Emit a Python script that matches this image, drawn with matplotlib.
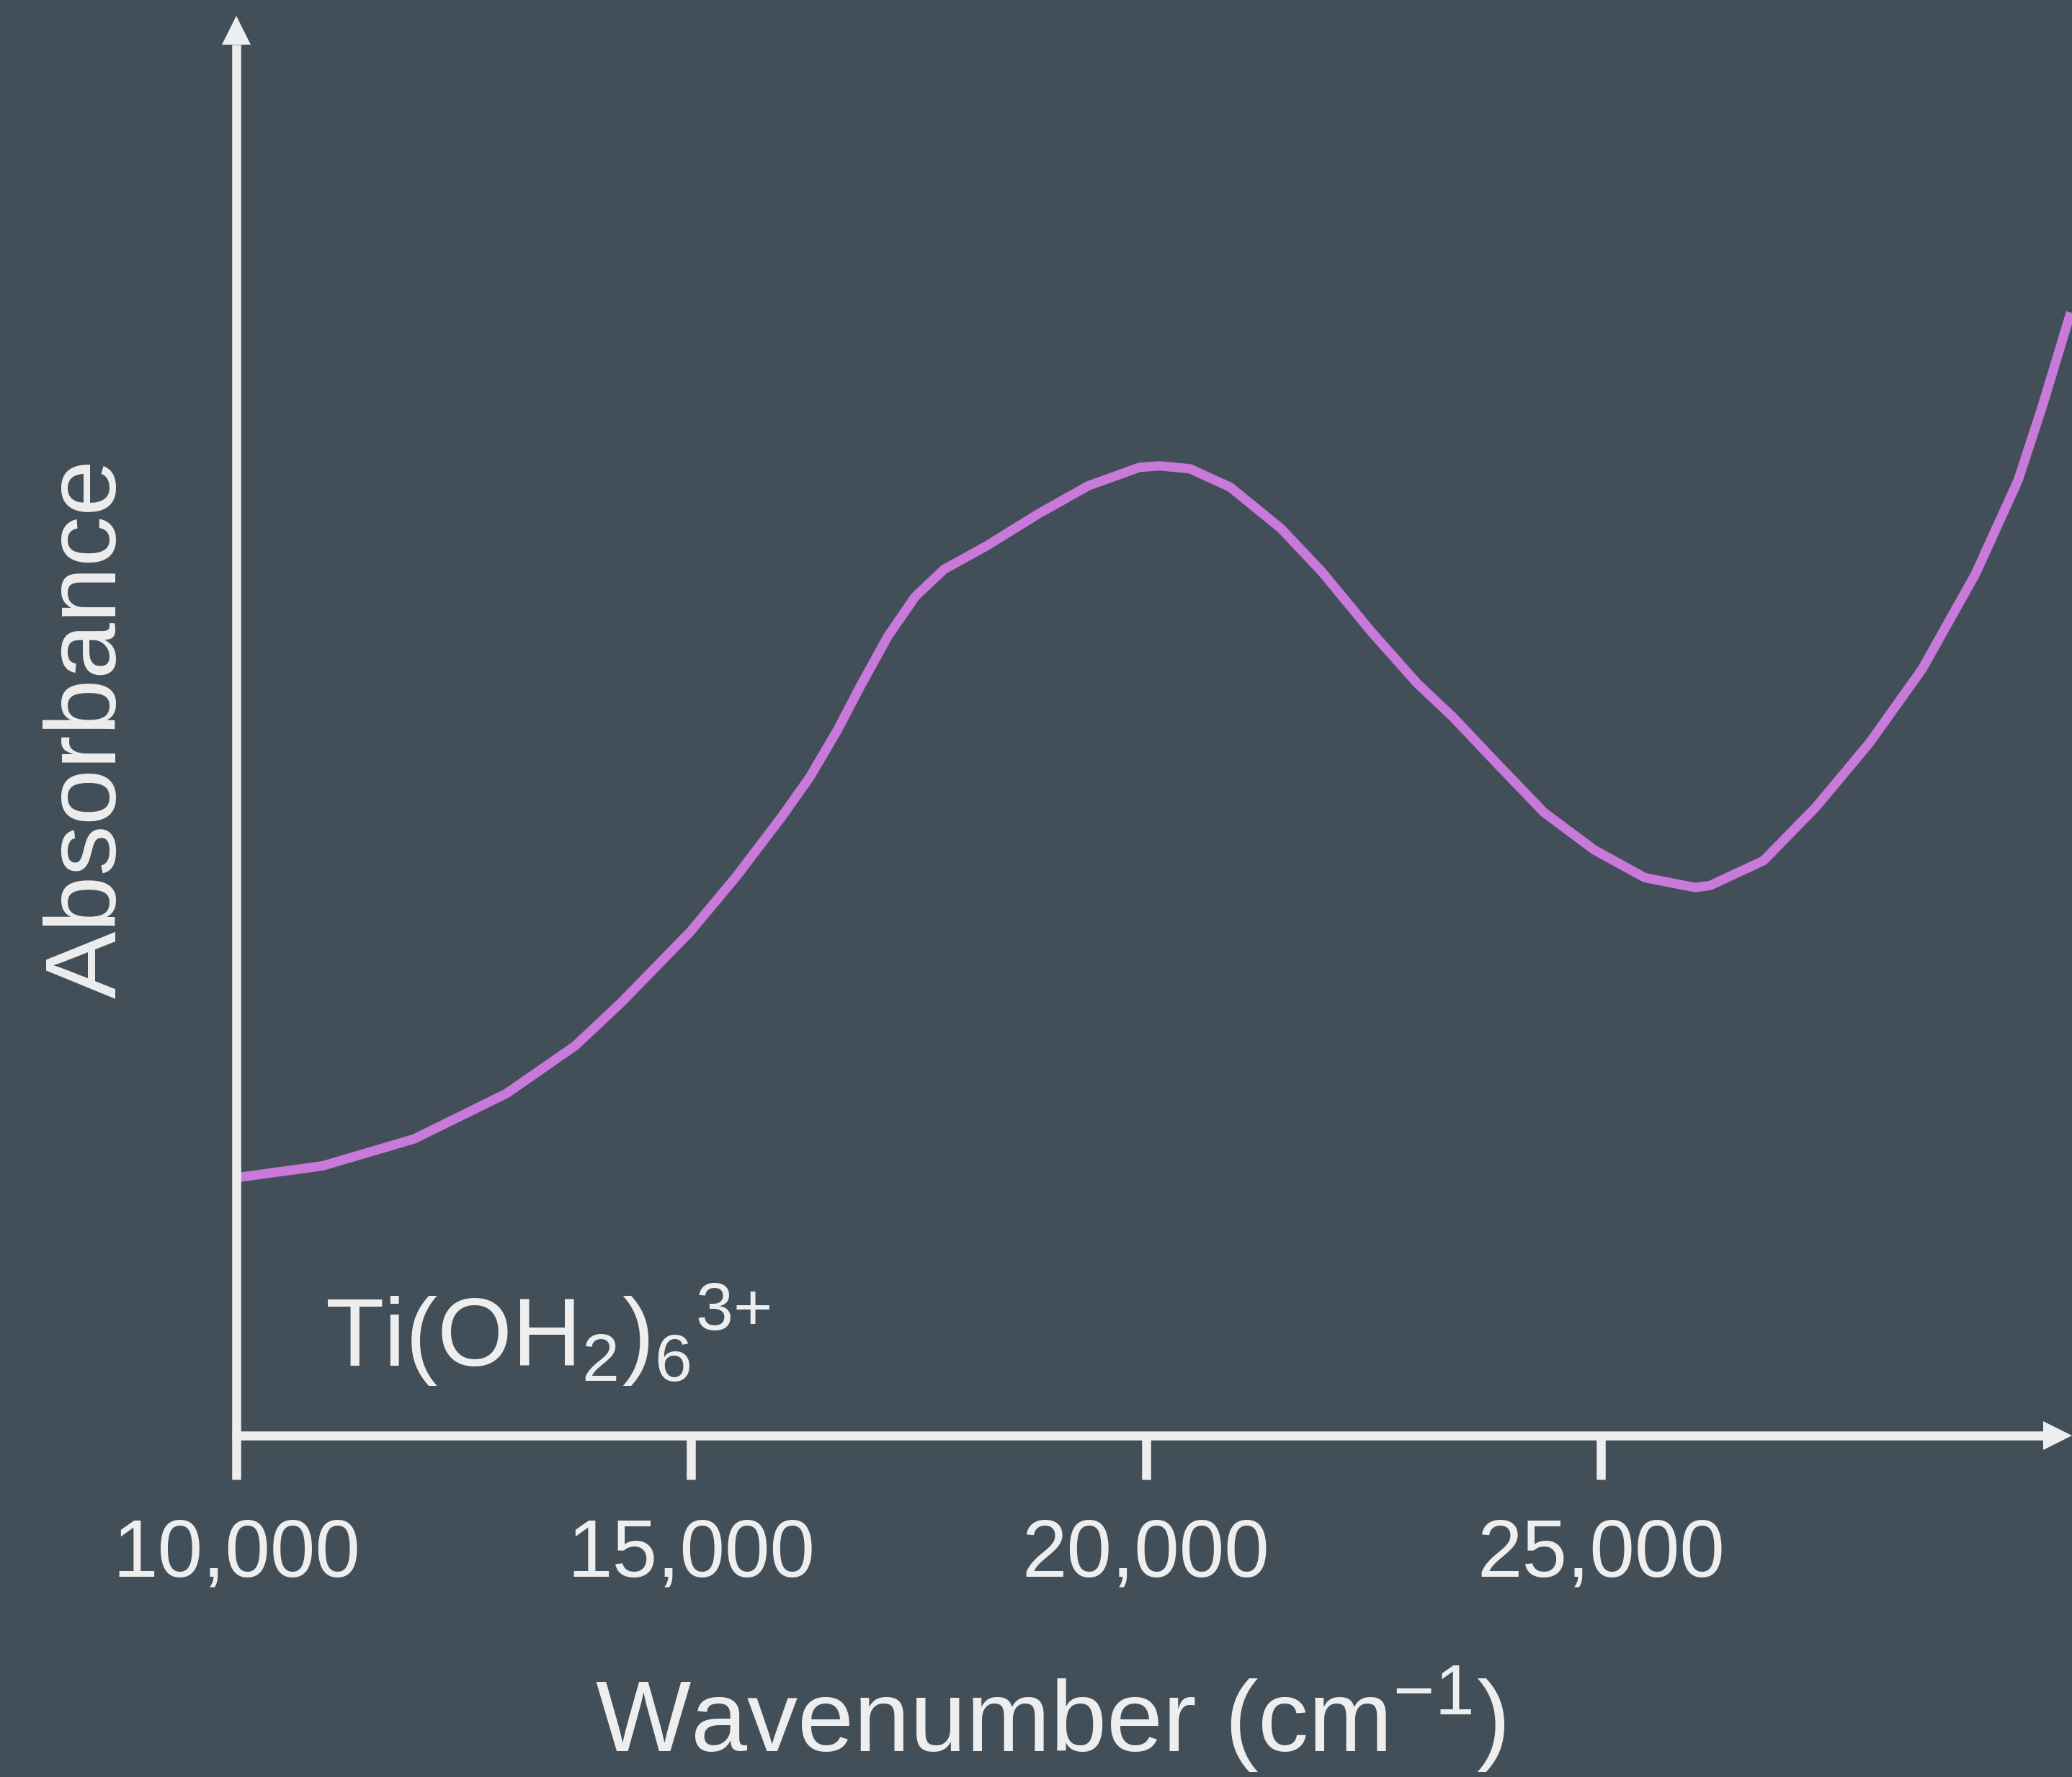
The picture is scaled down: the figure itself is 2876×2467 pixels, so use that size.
import matplotlib
matplotlib.use("Agg")
import matplotlib.pyplot as plt
from matplotlib.patches import Polygon
from matplotlib.transforms import ScaledTranslation

# ---- data ----
wavenumber = [10000, 10040, 10951, 11957, 12971, 13724, 14231, 14992, 15499, 15998,
              16307, 16609, 16862, 17163, 17464, 17778, 18257, 18811, 19366, 19929,
              20151, 20483, 20927, 21482, 21926, 22480, 22979, 23376, 23819, 24374,
              24929, 25483, 26038, 26204, 26790, 27369, 27955, 28534, 29120, 29588,
              29849, 30166]
absorbance = [0.181, 0.182, 0.190, 0.209, 0.241, 0.2745, 0.305, 0.355, 0.394, 0.436,
              0.464, 0.497, 0.528, 0.563, 0.591, 0.610, 0.627, 0.649, 0.669, 0.682,
              0.683, 0.681, 0.668, 0.639, 0.609, 0.566, 0.530, 0.506, 0.476, 0.439,
              0.4125, 0.393, 0.386, 0.3875, 0.405, 0.443, 0.488, 0.540, 0.607, 0.673,
              0.724, 0.791]
xticks = [10000, 15000, 20000, 25000]
xtick_labels = ["10,000", "15,000", "20,000", "25,000"]
label_text = r"Ti(OH$_2$)$_6$$^{3{+}}$"
xlabel_text = r"Wavenumber (cm$^{-1}$)"
ylabel_text = "Absorbance"

BG = "#424F59"
FG = "#EEEEEE"
LINE = "#C879DA"

plt.rcParams['font.family'] = ['Liberation Sans', 'DejaVu Sans']
plt.rcParams['mathtext.fontset'] = 'custom'
plt.rcParams['mathtext.rm'] = 'Liberation Sans'
plt.rcParams['mathtext.it'] = 'Liberation Sans'
plt.rcParams['mathtext.default'] = 'regular'

W, H = 2876, 2467
DPI = 100
fig = plt.figure(figsize=(W / DPI, H / DPI), dpi=DPI, facecolor=BG)
ax_left_px, ax_right_px = 328, 2876
ax_bottom_px, ax_top_px = 1993, 22  # measured from the top of the image
ax = fig.add_axes([ax_left_px / W, (H - ax_bottom_px) / H,
                   (ax_right_px - ax_left_px) / W, (ax_bottom_px - ax_top_px) / H])
ax.set_facecolor(BG)

ax.plot(wavenumber, absorbance, color=LINE, lw=9.4, solid_capstyle='butt',
        solid_joinstyle='round', clip_on=False, zorder=3)

ax.set_xlim(10000, 30180)
ax.set_ylim(0, 1)

for s in ax.spines.values():
    s.set_visible(False)

# axis lines with arrow heads
AX_LW = 9.0
head_len_px, head_half_px = 40, 20
ax_w_px = ax_right_px - ax_left_px
ax_h_px = ax_bottom_px - ax_top_px
lw_px = AX_LW * DPI / 72
ax.plot([-lw_px / 2 / ax_w_px, 1 - head_len_px / ax_w_px], [0, 0], color=FG, lw=AX_LW,
        transform=ax.transAxes, clip_on=False, solid_capstyle='butt', zorder=4)
ax.plot([0, 0], [0, 1 - head_len_px / ax_h_px], color=FG, lw=AX_LW,
        transform=ax.transAxes, clip_on=False, solid_capstyle='butt', zorder=4)

hl, hw = head_len_px / DPI, head_half_px / DPI
tr_up = fig.dpi_scale_trans + ScaledTranslation(0, 1, ax.transAxes)
tr_right = fig.dpi_scale_trans + ScaledTranslation(1, 0, ax.transAxes)
fig.patches.append(Polygon([(0, 0), (-hw, -hl), (hw, -hl)], closed=True,
                           facecolor=FG, edgecolor='none', transform=tr_up, zorder=5))
fig.patches.append(Polygon([(0, 0), (-hl, hw), (-hl, -hw)], closed=True,
                           facecolor=FG, edgecolor='none', transform=tr_right, zorder=5))

ax.set_xticks(xticks)
ax.set_xticklabels(xtick_labels)
ax.tick_params(axis='x', direction='out', length=44, width=AX_LW, color=FG,
               labelcolor=FG, labelsize=81, pad=38)
ax.set_yticks([])

ax.text(10973, 0.0485, label_text, color=FG, fontsize=96, va='baseline', ha='left')

fig.text(1458 / W, (H - 2432) / H, xlabel_text, color=FG,
         fontsize=101, ha='center', va='baseline')
fig.text(161 / W, 1 - 1011 / H, ylabel_text, color=FG, fontsize=101,
         rotation=90, rotation_mode='anchor', ha='center', va='baseline')

fig.savefig("out.png", dpi=DPI, facecolor=BG)
